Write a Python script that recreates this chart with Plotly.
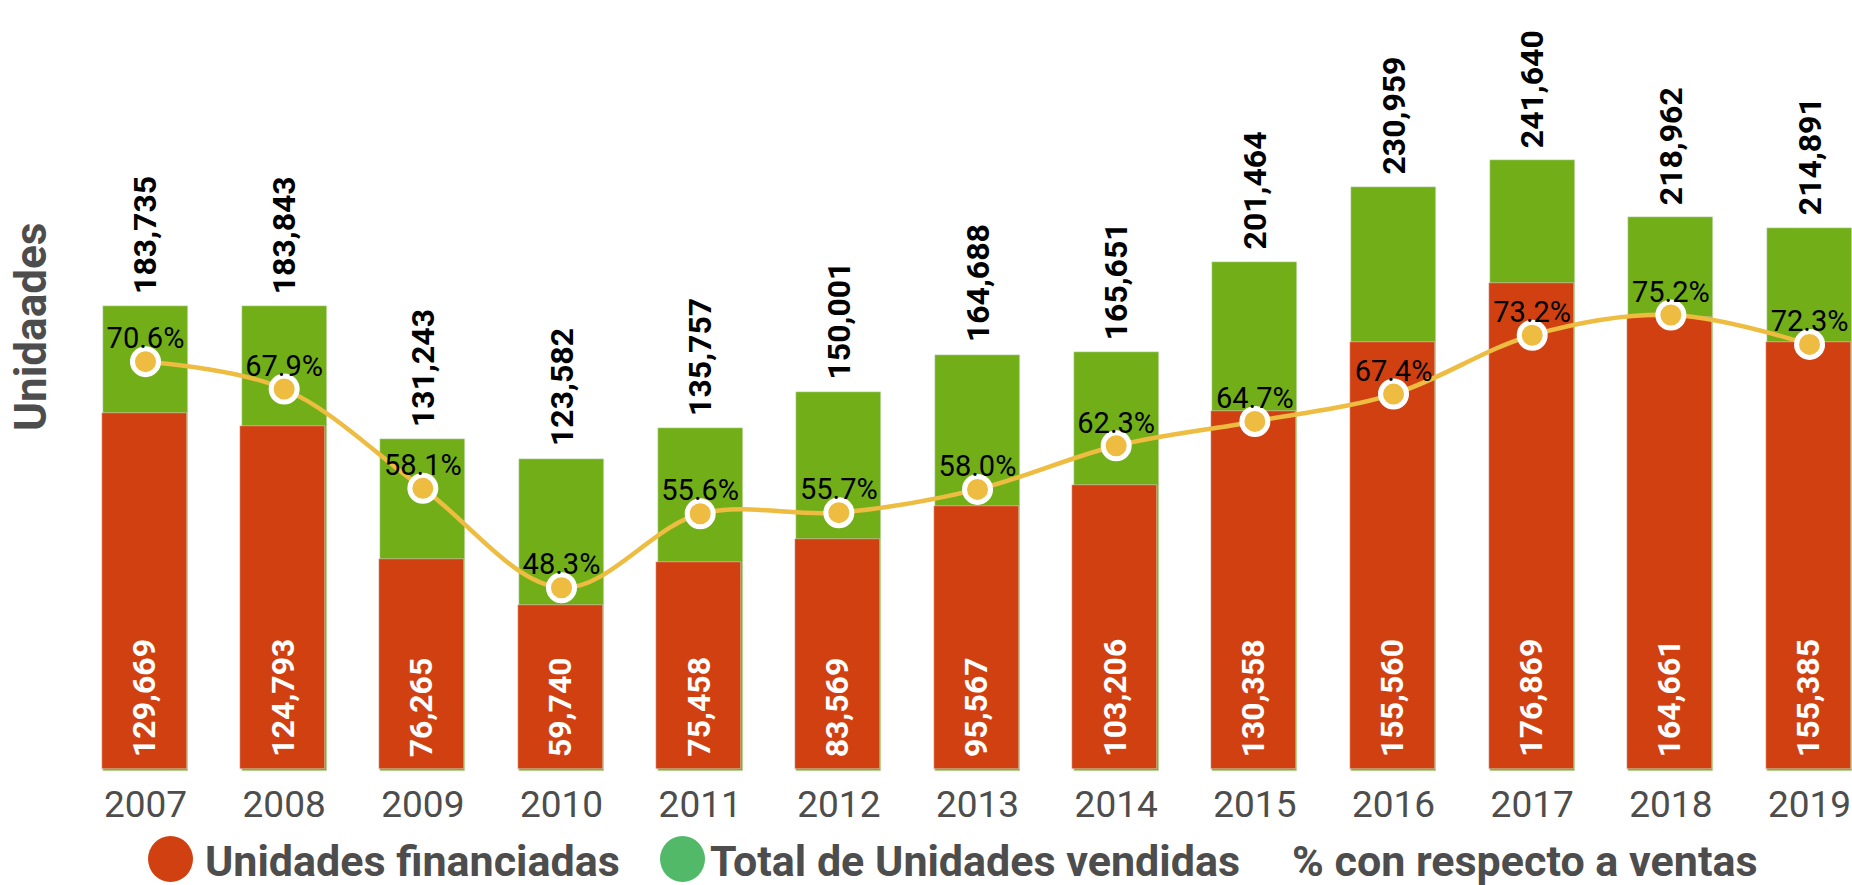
import plotly.graph_objects as go

# ---------------- data ----------------
years = ["2007", "2008", "2009", "2010", "2011", "2012", "2013",
         "2014", "2015", "2016", "2017", "2018", "2019"]
financiadas = [129669, 124793, 76265, 59740, 75458, 83569, 95567,
               103206, 130358, 155560, 176869, 164661, 155385]
vendidas = [183735, 183843, 131243, 123582, 135757, 150001, 164688,
            165651, 201464, 230959, 241640, 218962, 214891]
porcentaje = [70.6, 67.9, 58.1, 48.3, 55.6, 55.7, 58.0,
              62.3, 64.7, 67.4, 73.2, 75.2, 72.3]
legend_labels = ["Unidades financiadas", "Total de Unidades vendidas",
                 "% con respecto a ventas"]
y_title = "Unidaades"

# ---------------- style / geometry ----------------
W, H = 1852, 885
L, R, T, B = 76, 0, 20, 114          # margins (px)
PLOT_W = W - L - R
PLOT_H = H - T - B
CAT0_PX, CAT_STEP = 145.5, 138.67    # pixel centre of first category, spacing
BAR_W = 0.613

RED = "#D14011"
GREEN = "#71AE17"
GREEN_LEG = "#52B968"
YELLOW = "#EDBC40"
GREY = "#4D4D4D"
FONT = "Roboto"

x_range = [(L - CAT0_PX) / CAT_STEP, (W - R - CAT0_PX) / CAT_STEP]


def px_x(px):
    return (px - L) / PLOT_W


def px_y(py):
    return (H - B - py) / PLOT_H


fig = go.Figure()

# total sold (behind)
fig.add_trace(go.Bar(
    x=years, y=vendidas, name=legend_labels[1], marker_color=GREEN,
    width=BAR_W, yaxis="y", showlegend=False, hoverinfo="x+y",
))
# financed (front, own scale)
fig.add_trace(go.Bar(
    x=years, y=financiadas, name=legend_labels[0], marker_color=RED,
    width=BAR_W, offset=-BAR_W / 2 - 1.2 / CAT_STEP, yaxis="y2",
    showlegend=False, hoverinfo="x+y",
))
# percentage line
fig.add_trace(go.Scatter(
    x=years, y=porcentaje, name=legend_labels[2], yaxis="y3",
    mode="lines+markers", line=dict(color=YELLOW, width=4.5, shape="spline"),
    marker=dict(size=26, color=YELLOW, line=dict(color="white", width=5)),
    showlegend=False, cliponaxis=False,
))
# percentage labels
fig.add_trace(go.Scatter(
    x=years, y=porcentaje, yaxis="y3", mode="markers+text",
    marker=dict(size=8, opacity=0),
    text=[f"{p:.1f}%" for p in porcentaje], textposition="top center",
    textfont=dict(family=FONT, size=29, color="black"),
    showlegend=False, hoverinfo="skip", cliponaxis=False,
))

annotations = []
# totals above green bars (x given as category index)
for i, v in enumerate(vendidas):
    annotations.append(dict(
        x=i, y=v, xref="x", yref="y", text=f"{v:,}", textangle=-90,
        showarrow=False, xanchor="center", yanchor="bottom", yshift=10,
        font=dict(family=FONT, size=32, color="black", weight="bold"),
    ))
# financed values at base of red bars
for i, v in enumerate(financiadas):
    annotations.append(dict(
        x=i, y=0, xref="x", yref="y2", text=f"{v:,}", textangle=-90,
        showarrow=False, xanchor="center", yanchor="bottom", yshift=10,
        xshift=-1.5,
        font=dict(family=FONT, size=32, color="white", weight="bold"),
    ))
# y axis title
annotations.append(dict(
    x=px_x(31), y=px_y(327), xref="paper", yref="paper", text=y_title,
    textangle=-90, showarrow=False, xanchor="center", yanchor="middle",
    font=dict(family=FONT, size=44, color=GREY, weight="bold"),
))
# legend texts
for lbl, lx in zip(legend_labels, [203, 708, 1290]):
    annotations.append(dict(
        x=px_x(lx), y=px_y(861), xref="paper", yref="paper", text=lbl,
        showarrow=False, xanchor="left", yanchor="middle",
        font=dict(family=FONT, size=43, color=GREY, weight="bold"),
    ))

shapes = []
for cx, col in zip([170.5, 682.5], [RED, GREEN_LEG]):
    shapes.append(dict(
        type="circle", xref="paper", yref="paper",
        xsizemode="pixel", ysizemode="pixel",
        xanchor=px_x(cx), yanchor=px_y(859),
        x0=-22.5, x1=22.5, y0=-23, y1=23,
        fillcolor=col, line=dict(width=0),
    ))

fig.update_layout(
    width=W, height=H,
    margin=dict(l=L, r=R, t=T, b=B, pad=0),
    paper_bgcolor="white", plot_bgcolor="white",
    barmode="overlay", bargap=0,
    showlegend=False,
    font=dict(family=FONT, color=GREY),
    xaxis=dict(type="category", range=x_range, showgrid=False,
               zeroline=False, showline=False, ticks="",
               tickfont=dict(family=FONT, size=37, color=GREY),
               ticklabelstandoff=8),
    yaxis=dict(range=[0, 297014], visible=False, showgrid=False),
    yaxis2=dict(range=[-728, 272562], overlaying="y", visible=False,
                showgrid=False),
    yaxis3=dict(range=[30.22, 104.3], overlaying="y", visible=False,
                showgrid=False),
    annotations=annotations,
    shapes=shapes,
)

fig.write_html("out.html", config={"displayModeBar": False},
               post_script="document.body.style.margin='0';")
